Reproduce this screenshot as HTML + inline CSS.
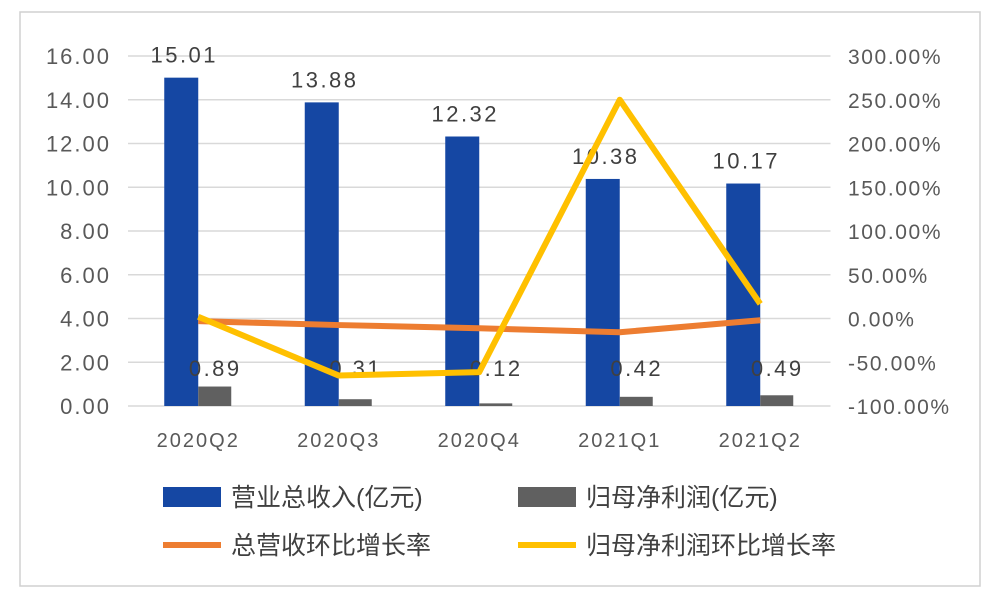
<!DOCTYPE html>
<html><head><meta charset="utf-8"><style>
body{margin:0;background:#fff;}
svg text{font-family:"Liberation Sans","Noto Sans CJK SC",sans-serif;}
</style></head><body>
<svg width="1000" height="598" id="c">
<rect x="20" y="12" width="960" height="574" fill="#fff" stroke="#d0d0d0" stroke-width="1.5"/>
</svg>
<script>
const categories=["2020Q2","2020Q3","2020Q4","2021Q1","2021Q2"];
const revenue=[15.01,13.88,12.32,10.38,10.17];
const profit=[0.89,0.31,0.12,0.42,0.49];
const revGrowth=[-3,-7.5,-11.2,-15.7,-2];
const profitGrowth=[2,-65.2,-61.3,250,16.7];
const leftTicks=["0.00","2.00","4.00","6.00","8.00","10.00","12.00","14.00","16.00"];
const rightTicks=["-100.00%","-50.00%","0.00%","50.00%","100.00%","150.00%","200.00%","250.00%","300.00%"];
const svg=document.getElementById('c');const NS="http://www.w3.org/2000/svg";
function mk(t,a,p){const e=document.createElementNS(NS,t);for(const k in a)e.setAttribute(k,a[k]);(p||svg).appendChild(e);return e;}
const x0=128,cw=140.5,yb=406,ppu=350/16;
const yL=v=>yb-v*ppu, yR=v=>yb-(v+100)*350/400, xc=i=>x0+cw*(i+0.5);
leftTicks.forEach((t,i)=>{const y=yL(i*2);
const g=mk('line',{x1:x0,x2:x0+cw*5,y1:y,y2:y,stroke:'#d9d9d9','stroke-width':1.5});

const l=mk('text',{x:111,y:y+8,'text-anchor':'end','font-size':22,fill:'#595959','letter-spacing':2});l.textContent=t;

const r=mk('text',{x:848,y:y+8,'font-size':21,fill:'#595959','letter-spacing':1.6});r.textContent=rightTicks[i];
});
categories.forEach((c,i)=>{const cx=xc(i);
const b=mk('rect',{x:cx-34,y:yL(revenue[i]),width:34,height:yb-yL(revenue[i]),fill:'#1547a3'});

const g=mk('rect',{x:cx,y:yL(profit[i]),width:33,height:Math.max(1,yb-yL(profit[i])),fill:'#606060'});

const t=mk('text',{x:cx-14,y:yL(revenue[i])-15,'text-anchor':'middle','font-size':22,fill:'#404040','letter-spacing':2.5});t.textContent=revenue[i].toFixed(2);

const p=mk('text',{x:cx+17,y:376,'text-anchor':'middle','font-size':22,fill:'#404040','letter-spacing':2.5});p.textContent=profit[i].toFixed(2);

const xl=mk('text',{x:cx,y:447,'text-anchor':'middle','font-size':20,fill:'#595959','letter-spacing':2});xl.textContent=c;
});
const lo=mk('polyline',{points:revGrowth.map((v,i)=>xc(i)+','+yR(v)).join(' '),fill:'none',stroke:'#ed7d31','stroke-width':6,'stroke-linejoin':'round'});

const ly=mk('polyline',{points:profitGrowth.map((v,i)=>xc(i)+','+yR(v)).join(' '),fill:'none',stroke:'#ffc000','stroke-width':6,'stroke-linejoin':'round'});

const leg=[["bar","#1547a3","营业总收入(亿元)",163,497],["bar","#606060","归母净利润(亿元)",518,497],["line","#ed7d31","总营收环比增长率",163,545],["line","#ffc000","归母净利润环比增长率",518,545]];
leg.forEach(l=>{let m;if(l[0]=="bar")m=mk('rect',{x:l[3],y:l[4]-10,width:58,height:20,fill:l[1]});
else m=mk('line',{x1:l[3],x2:l[3]+58,y1:l[4],y2:l[4],stroke:l[1],'stroke-width':6});

const t=mk('text',{x:l[3]+68,y:l[4]+9,'font-size':25,fill:'#404040'});t.textContent=l[2];
});
</script>
</body></html>
